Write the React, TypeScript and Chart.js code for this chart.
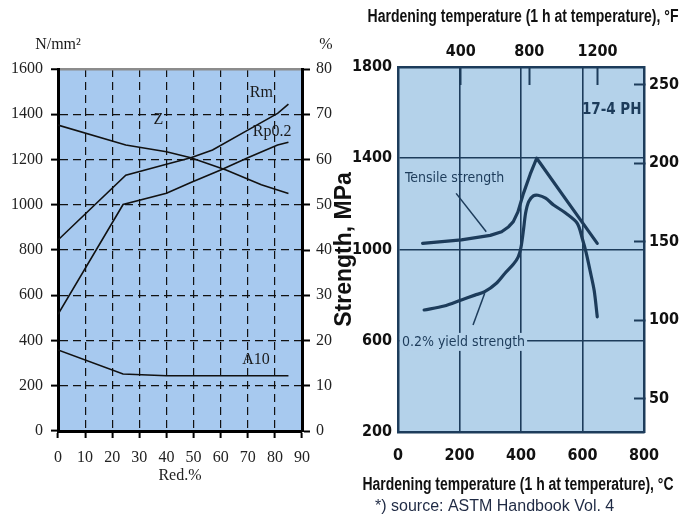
import React, { useEffect, useRef } from 'react';
import { Chart, registerables } from 'chart.js';

Chart.register(...registerables);

// ---------- Left chart: properties vs. cold reduction ----------
const redRm = [0, 25, 40, 49, 57, 70, 81, 85];
const rmValues = [844, 1131, 1179, 1208, 1242, 1330, 1404, 1445];
const redRp = [0, 24, 40, 49, 60, 70, 81, 85];
const rpValues = [516, 1001, 1051, 1098, 1154, 1208, 1264, 1276];
const redZ = [0, 25, 40, 49, 62, 75, 85];
const zValues = [67.6, 63.2, 61.7, 60.4, 57.7, 54.4, 52.5];
const redA = [0, 24, 40, 85];
const aValues = [17.9, 12.6, 12.2, 12.2];
const leftLabels = ['Rm', 'Rp0.2', 'Z', 'A10'];
const leftLabelX = [75, 79, 37, 73];
const leftLabelY = [1494, 1323, 1375, 314];

// ---------- Right chart: 17-4 PH vs hardening temperature ----------
const tensileC = [80, 206, 300, 337, 360, 375, 390, 408, 430, 451, 550, 648];
const tensileMPa = [1027, 1042, 1062, 1078, 1100, 1122, 1165, 1246, 1330, 1400, 1212, 1027];
const yieldC = [85, 150, 206, 250, 282, 320, 348, 375, 391, 400, 408, 415, 425, 440, 455, 480, 506, 545, 583, 600, 612, 625, 638, 648];
const yieldMPa = [735, 752, 779, 800, 815, 852, 896, 935, 968, 1010, 1085, 1160, 1210, 1235, 1238, 1225, 1195, 1160, 1115, 1045, 985, 905, 820, 705];
const fTicks = [400, 800, 1200];
const ksiTicks = [50, 100, 150, 200, 250];
const MPA_PER_KSI = 6.895;
const rightLabels = ['Tensile strength', '0.2% yield strength', '17-4 PH'];
const rightLabelC = [184, 213, 695];
const rightLabelMPa = [1313, 595, 1611];
const leaderFromC = [189, 244];
const leaderFromMPa = [1246, 669];
const leaderToC = [287, 282];
const leaderToMPa = [1078, 808];
const titleF = 'Hardening temperature (1 h at temperature), °F';
const titleC = 'Hardening temperature (1 h at temperature), °C';
const sourceNote = '*) source: ASTM Handbook Vol. 4';

const serif = "'Liberation Serif', 'DejaVu Serif', serif";
const narrow = "'Liberation Sans Narrow', 'DejaVu Sans Condensed', sans-serif";
const sans = "'Liberation Sans', Arial, sans-serif";
const navy = '#1d3c5b';

const pts = (xs: number[], ys: number[]) => xs.map((x, i) => ({ x, y: ys[i] }));
const plain = (v: any) => String(v);

function bgPlugin(id: string, color: string) {
  return {
    id,
    beforeDraw(chart: any) {
      const { ctx, chartArea: a } = chart;
      ctx.save();
      ctx.fillStyle = color;
      ctx.fillRect(a.left, a.top, a.right - a.left, a.bottom - a.top);
      ctx.restore();
    },
  };
}

const leftTextPlugin = {
  id: 'leftText',
  afterDraw(chart: any) {
    const { ctx, chartArea: a, scales } = chart;
    ctx.save();
    ctx.fillStyle = '#1a1a1a';
    ctx.font = `16px ${serif}`;
    ctx.textAlign = 'center';
    ctx.textBaseline = 'middle';
    ctx.fillText('N/mm²', a.left, a.top - 24);
    ctx.fillText('%', a.right + 24, a.top - 24);
    leftLabels.forEach((t, i) => {
      ctx.fillText(t, scales.x.getPixelForValue(leftLabelX[i]), scales.y.getPixelForValue(leftLabelY[i]));
    });
    ctx.restore();
  },
};

const rightTextPlugin = {
  id: 'rightText',
  afterDatasetsDraw(chart: any) {
    const { ctx, scales, chartArea: a } = chart;
    const x = scales.x, y = scales.y;
    ctx.save();
    ctx.strokeStyle = navy;
    ctx.lineWidth = 1.5;
    for (let i = 0; i < leaderFromC.length; i++) {
      ctx.beginPath();
      ctx.moveTo(x.getPixelForValue(leaderFromC[i]), y.getPixelForValue(leaderFromMPa[i]));
      ctx.lineTo(x.getPixelForValue(leaderToC[i]), y.getPixelForValue(leaderToMPa[i]));
      ctx.stroke();
    }
    ctx.textAlign = 'center';
    ctx.textBaseline = 'middle';
    rightLabels.forEach((t, i) => {
      ctx.font = i === 2 ? `bold 15px ${narrow}` : `14px ${narrow}`;
      const px = x.getPixelForValue(rightLabelC[i]);
      const py = y.getPixelForValue(rightLabelMPa[i]);
      if (i === 1) {
        const w = ctx.measureText(t).width;
        ctx.fillStyle = '#b4d2ea';
        ctx.fillRect(px - w / 2 - 2, py - 9, w + 4, 18);
      }
      ctx.fillStyle = navy;
      ctx.fillText(t, px, py);
    });
    // axis titles (drawn without the chart-area width limit)
    ctx.fillStyle = '#111';
    ctx.font = `bold 18px ${sans}`;
    const cx = (a.left + a.right) / 2;
    ctx.fillText(titleF, cx + 2, 17, 311);
    ctx.fillText(titleC, cx - 3, 485, 311);
    ctx.fillStyle = '#1f2a44';
    ctx.font = `16px ${sans}`;
    ctx.textAlign = 'left';
    ctx.fillText(sourceNote, 45, 507, 243);
    ctx.restore();
  },
};

function LeftChart() {
  const ref = useRef<HTMLCanvasElement>(null);
  useEffect(() => {
    const tickFont = { family: serif, size: 16 };
    const chart = new Chart(ref.current as HTMLCanvasElement, {
      type: 'line',
      data: {
        datasets: [
          { label: 'Rm', data: pts(redRm, rmValues), yAxisID: 'y' },
          { label: 'Rp0.2', data: pts(redRp, rpValues), yAxisID: 'y' },
          { label: 'Z', data: pts(redZ, zValues), yAxisID: 'y1' },
          { label: 'A10', data: pts(redA, aValues), yAxisID: 'y1' },
        ].map((d) => ({
          ...d,
          borderColor: '#111',
          borderWidth: 1.6,
          pointRadius: 0,
          tension: 0,
          fill: false,
        })),
      },
      options: {
        animation: false,
        responsive: false,
        layout: { padding: { top: 69, left: 0, right: 0, bottom: 0 } },
        plugins: { legend: { display: false }, tooltip: { enabled: false } },
        scales: {
          x: {
            type: 'linear',
            min: 0,
            max: 90,
            position: 'bottom',
            ticks: { stepSize: 10, color: '#222', font: tickFont, padding: 10, callback: plain },
            grid: {
              color: (c: any) => (c.tick && (c.tick.value === 0 || c.tick.value === 90) ? 'transparent' : '#111'),
              lineWidth: 1.2,
              tickColor: '#000',
              tickWidth: 2,
              tickLength: 7,
            },
            border: { color: '#000', width: 3, dash: [8, 5] },
            title: { display: true, text: 'Red.%', color: '#222', font: tickFont, padding: { top: 0, bottom: 3 } },
            afterFit: (s: any) => { s.height = 57; },
          },
          y: {
            type: 'linear',
            min: 0,
            max: 1600,
            position: 'left',
            ticks: { stepSize: 200, color: '#222', font: tickFont, padding: 8, callback: plain },
            grid: {
              color: (c: any) => {
                const v = c.tick ? c.tick.value : -1;
                if (v === 0) return 'transparent';
                if (v === 1600) return '#8c8c8c';
                return '#111';
              },
              lineWidth: (c: any) => (c.tick && c.tick.value === 1600 ? 2.5 : 1.2),
              tickColor: '#000',
              tickWidth: 2,
              tickLength: 7,
            },
            border: {
              color: '#000',
              width: 3,
              dash: (c: any) => (c.tick && c.tick.value === 1600 ? [] : [8, 5]),
            },
            afterFit: (s: any) => { s.width = 58; },
          },
          y1: {
            type: 'linear',
            min: 0,
            max: 80,
            position: 'right',
            ticks: { stepSize: 10, color: '#222', font: tickFont, padding: 6, callback: plain },
            grid: { drawOnChartArea: false, tickColor: '#000', tickWidth: 2, tickLength: 8 },
            border: { color: '#000', width: 3 },
            afterFit: (s: any) => { s.width = 38; },
          },
        },
      } as any,
      plugins: [bgPlugin('leftBg', '#a7c9ef'), leftTextPlugin],
    });
    return () => chart.destroy();
  }, []);
  return <canvas ref={ref} width={340} height={488} style={{ position: 'absolute', left: 0, top: 0 }} />;
}

function RightChart() {
  const ref = useRef<HTMLCanvasElement>(null);
  useEffect(() => {
    const tickFont = { family: narrow, size: 16, weight: 'bold' as const };
    const edgeC = (c: any, a: number, b: number) =>
      c.tick && (c.tick.value === a || c.tick.value === b) ? 'transparent' : navy;
    const chart = new Chart(ref.current as HTMLCanvasElement, {
      type: 'line',
      data: {
        datasets: [
          { label: 'Tensile strength', data: pts(tensileC, tensileMPa), tension: 0 },
          { label: '0.2% yield strength', data: pts(yieldC, yieldMPa), tension: 0.3 },
        ].map((d) => ({
          ...d,
          xAxisID: 'x',
          yAxisID: 'y',
          borderColor: navy,
          borderWidth: 3.2,
          borderCapStyle: 'round' as const,
          borderJoinStyle: 'round' as const,
          pointRadius: 0,
          fill: false,
        })),
      },
      options: {
        animation: false,
        responsive: false,
        layout: { padding: 0 },
        plugins: { legend: { display: false }, tooltip: { enabled: false } },
        scales: {
          x: {
            type: 'linear',
            min: 0,
            max: 800,
            position: 'bottom',
            ticks: { stepSize: 200, color: '#111', font: tickFont, padding: 14, callback: plain },
            grid: { color: (c: any) => edgeC(c, 0, 800), lineWidth: 1.6, drawTicks: false },
            border: { color: navy, width: 2.5 },
            afterFit: (s: any) => { s.height = 82; },
          },
          xF: {
            type: 'linear',
            min: 32,
            max: 1472,
            position: 'top',
            afterBuildTicks: (s: any) => { s.ticks = fTicks.map((v) => ({ value: v })); },
            ticks: { color: '#111', font: tickFont, padding: 24, callback: plain },
            grid: { drawOnChartArea: false, tickLength: -18, tickColor: navy, tickWidth: 2 },
            border: { color: navy, width: 2.5 },
            afterFit: (s: any) => { s.height = 67; },
          },
          y: {
            type: 'linear',
            min: 200,
            max: 1800,
            position: 'left',
            ticks: { stepSize: 400, color: '#111', font: tickFont, padding: 6, callback: plain },
            grid: { color: (c: any) => edgeC(c, 200, 1800), lineWidth: 1.6, drawTicks: false },
            border: { color: navy, width: 2.5 },
            title: {
              display: true,
              text: 'Strength, MPa',
              color: '#111',
              font: { family: sans, size: 23, weight: 'bold' },
              padding: { top: 1, bottom: 0 },
            },
            afterFit: (s: any) => { s.width = 68; },
          },
          yK: {
            type: 'linear',
            min: 200 / MPA_PER_KSI,
            max: 1800 / MPA_PER_KSI,
            position: 'right',
            afterBuildTicks: (s: any) => { s.ticks = ksiTicks.map((v) => ({ value: v })); },
            ticks: { color: '#111', font: tickFont, padding: 15, callback: plain },
            grid: { drawOnChartArea: false, tickLength: -10, tickColor: navy, tickWidth: 2 },
            border: { color: navy, width: 2.5 },
            afterFit: (s: any) => { s.width = 35; },
          },
        },
      } as any,
      plugins: [bgPlugin('rightBg', '#b4d2ea'), rightTextPlugin],
    });
    return () => chart.destroy();
  }, []);
  return <canvas ref={ref} width={349} height={514} style={{ position: 'absolute', left: 330, top: 0 }} />;
}

export default function App() {
  return (
    <div style={{ position: 'absolute', left: 0, top: 0, width: 679, height: 514, background: '#fff', overflow: 'hidden' }}>
      <LeftChart />
      <RightChart />
    </div>
  );
}
